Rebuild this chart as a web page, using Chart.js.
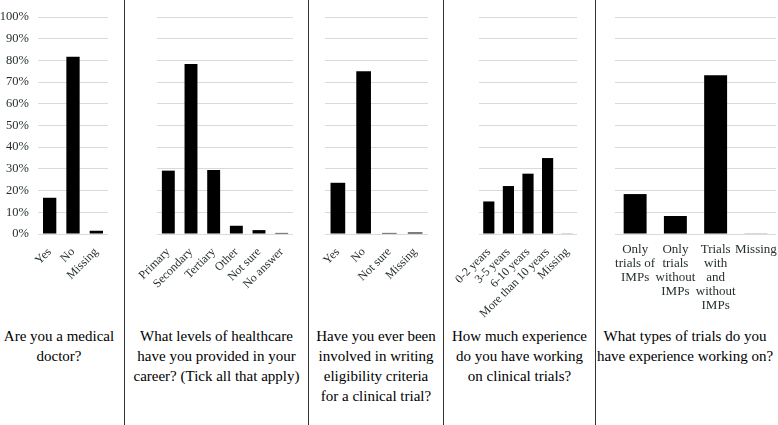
<!DOCTYPE html>
<html>
<head>
<meta charset="utf-8">
<script src="https://cdn.jsdelivr.net/npm/chart.js@4.4.1/dist/chart.umd.min.js"></script>
<style>
  body { margin: 0; background: #fff; width: 778px; height: 425px; position: relative; overflow: hidden; font-family: 'Liberation Serif', serif; }
  canvas { position: absolute; top: 0; }
  .sep { position: absolute; top: 0; width: 1px; height: 425px; background: #333; }
  .q { position: absolute; top: 326px; text-align: center; font-size: 15px; line-height: 20px; color: #000; white-space: nowrap; }
</style>
</head>
<body>
<canvas id="p1" width="124" height="320" style="left:0px"></canvas>
<canvas id="p2" width="183" height="320" style="left:125px"></canvas>
<canvas id="p3" width="134" height="320" style="left:309px"></canvas>
<canvas id="p4" width="151" height="320" style="left:444px"></canvas>
<canvas id="p5" width="182" height="320" style="left:596px"></canvas>

<div class="sep" style="left:124px"></div>
<div class="sep" style="left:308px"></div>
<div class="sep" style="left:443px"></div>
<div class="sep" style="left:595px"></div>

<div class="q" style="left:0px;width:118px">Are you a medical<br>doctor?</div>
<div class="q" style="left:125px;width:183px">What levels of healthcare<br>have you provided in your<br>career? (Tick all that apply)</div>
<div class="q" style="left:309px;width:134px">Have you ever been<br>involved in writing<br>eligibility criteria<br>for a clinical trial?</div>
<div class="q" style="left:444px;width:151px">How much experience<br>do you have working<br>on clinical trials?</div>
<div class="q" style="left:596px;width:178px">What types of trials do you<br>have experience working on?</div>

<script>
// percentages
const doctorLabels = ['Yes', 'No', 'Missing'];
const doctorValues = [16.7, 81.7, 1.5];

const levelLabels = ['Primary', 'Secondary', 'Tertiary', 'Other', 'Not sure', 'No answer'];
const levelValues = [29.2, 78.3, 29.5, 3.8, 1.8, 0.5];

const criteriaLabels = ['Yes', 'No', 'Not sure', 'Missing'];
const criteriaValues = [23.6, 75.0, 0.5, 0.7];

const experienceLabels = ['0-2 years', '3-5 years', '6-10 years', 'More than 10 years', 'Missing'];
const experienceValues = [15.0, 22.1, 27.8, 35.0, 0.3];

const trialLabels = [['Only', 'trials of', 'IMPs'], ['Only', 'trials', 'without', 'IMPs'], ['Trials', 'with', 'and', 'without', 'IMPs'], ['Missing']];
const trialValues = [18.4, 8.3, 73.1, 0.3];

const yMax = 100;
const yStep = 10;

const FONT = "'Liberation Serif', serif";
const TICK_COLOR = '#263030';
const GRID_COLOR = '#d5dcdc';

function makePanel(id, labels, values, opt) {
    const canvasHeight = 320;
    return new Chart(document.getElementById(id), {
        type: 'bar',
        data: {
            labels: labels,
            datasets: [{
                data: values,
                backgroundColor: '#000',
                borderWidth: 0,
                barPercentage: 1,
                categoryPercentage: 0.57
            }]
        },
        options: {
            responsive: false,
            animation: false,
            layout: {
                padding: { top: 17, left: opt.padLeft, right: opt.padRight, bottom: 0 }
            },
            scales: {
                x: {
                    border: { display: false },
                    grid: { display: false },
                    ticks: {
                        autoSkip: false,
                        color: TICK_COLOR,
                        font: opt.rotate ? { family: FONT, size: 12 } : { family: FONT, size: 13, lineHeight: '14px' },
                        maxRotation: opt.rotate ? 45 : 0,
                        minRotation: opt.rotate ? 45 : 0,
                        padding: opt.rotate ? 3 : 1
                    },
                    afterFit: s => {
                        s.height = canvasHeight - 234;
                        s.paddingLeft = 0;
                        s.paddingRight = 0;
                    }
                },
                y: {
                    min: 0,
                    max: yMax,
                    border: { display: false },
                    grid: { color: GRID_COLOR, drawTicks: false, lineWidth: 1 },
                    ticks: {
                        display: opt.showY,
                        stepSize: yStep,
                        color: TICK_COLOR,
                        padding: 9,
                        font: { family: FONT, size: 12.5 },
                        callback: v => v + '%'
                    },
                    afterFit: s => {
                        s.width = opt.showY ? 38 : 0;
                        s.paddingTop = 0;
                        s.paddingBottom = 0;
                    }
                }
            },
            plugins: {
                legend: { display: false },
                tooltip: { enabled: false }
            }
        }
    });
}

makePanel('p1', doctorLabels, doctorValues, { padLeft: 0, padRight: 16, showY: true, rotate: true });
makePanel('p2', levelLabels, levelValues, { padLeft: 32, padRight: 15, showY: false, rotate: true });
makePanel('p3', criteriaLabels, criteriaValues, { padLeft: 16, padRight: 15, showY: false, rotate: true });
makePanel('p4', experienceLabels, experienceValues, { padLeft: 35, padRight: 18, showY: false, rotate: true });
makePanel('p5', trialLabels, trialValues, { padLeft: 19, padRight: 2, showY: false, rotate: false });
</script>
</body>
</html>
